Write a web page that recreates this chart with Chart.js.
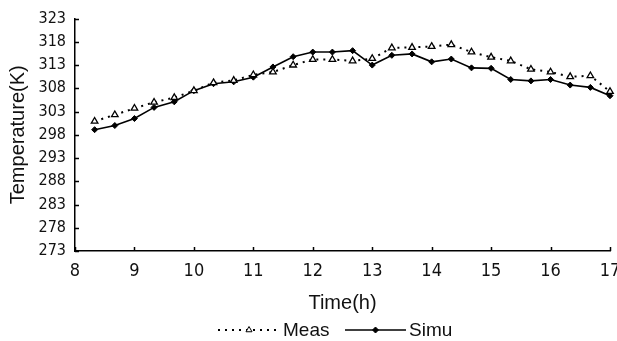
<!DOCTYPE html>
<html>
<head>
<meta charset="utf-8">
<script src="https://cdn.jsdelivr.net/npm/chart.js@4.4.0/dist/chart.umd.min.js"></script>
<style>
	html, body { margin: 0; padding: 0; background: #fff; }
	#chart { display: block; }
</style>
</head>
<body>
<canvas id="chart" width="617" height="341"></canvas>
<script>
// time of day (h)
const hours = [8.33, 8.67, 9, 9.33, 9.67, 10, 10.33, 10.67, 11, 11.33, 11.67, 12, 12.33, 12.67,
	13, 13.33, 13.67, 14, 14.33, 14.67, 15, 15.33, 15.67, 16, 16.33, 16.67, 17];

// measured temperature (K)
const meas = [300.9, 302.3, 303.7, 305.0, 306.0, 307.5, 309.2, 309.7, 310.9, 311.5, 313.0, 314.2, 314.2, 313.9,
	314.4, 316.7, 316.8, 317.0, 317.4, 315.8, 314.7, 313.9, 312.1, 311.5, 310.5, 310.7, 307.3];

// simulated temperature (K)
const simu = [299.1, 300.0, 301.5, 303.9, 305.1, 307.5, 309.0, 309.4, 310.4, 312.6, 314.8, 315.8, 315.8, 316.1,
	313.0, 315.1, 315.4, 313.7, 314.3, 312.4, 312.3, 309.9, 309.6, 309.9, 308.7, 308.2, 306.4];

const seriesNames = ['Meas', 'Simu'];
const yMin = 273, yMax = 323, yStep = 5;
const xMin = 8, xMax = 17, xStep = 1;

const narrow = "'Liberation Sans Narrow', 'Arial Narrow', 'DejaVu Sans Condensed', 'Liberation Sans', Arial, sans-serif";
const regular = "'Liberation Sans', Arial, sans-serif";
const ink = '#111';

const toPoints = (ys) => ys.map((y, i) => ({ x: hours[i], y: y }));

// ticks pointing into the plot, like the original
const innerTicks = {
	id: 'innerTicks',
	afterDatasetsDraw(chart) {
		const { ctx, scales: { x, y } } = chart;
		ctx.save();
		ctx.strokeStyle = '#000';
		ctx.lineWidth = 1.5;
		ctx.beginPath();
		y.ticks.forEach(t => {
			const py = Math.round(y.getPixelForValue(t.value)) + 0.5;
			ctx.moveTo(y.right, py);
			ctx.lineTo(y.right + 4, py);
		});
		x.ticks.forEach(t => {
			const px = Math.round(x.getPixelForValue(t.value)) + 0.5;
			ctx.moveTo(px, x.top);
			ctx.lineTo(px, x.top - 4);
		});
		ctx.stroke();
		ctx.restore();
	}
};

// legend: line sample with marker, then the name
const lineLegend = {
	id: 'lineLegend',
	afterDraw(chart) {
		const { ctx } = chart;
		const cy = 330;
		const items = [
			{ x0: 218, x1: 280, dash: [2, 5], marker: 'triangle', label: seriesNames[0] },
			{ x0: 345, x1: 406, dash: [], marker: 'rectRot', label: seriesNames[1] },
		];
		ctx.save();
		items.forEach(it => {
			ctx.strokeStyle = '#000';
			ctx.lineWidth = it.dash.length ? 2 : 1.5;
			ctx.setLineDash(it.dash);
			ctx.beginPath();
			ctx.moveTo(it.x0, cy);
			ctx.lineTo(it.x1, cy);
			ctx.stroke();
			ctx.setLineDash([]);
			const mx = (it.x0 + it.x1) / 2;
			ctx.lineWidth = 1;
			if (it.marker === 'triangle') {
				ctx.fillStyle = '#fff';
				Chart.helpers.drawPoint(ctx, { pointStyle: 'triangle', radius: 3.5, borderWidth: 1 }, mx, cy);
			} else {
				ctx.fillStyle = '#000';
				Chart.helpers.drawPoint(ctx, { pointStyle: 'rectRot', radius: 3, borderWidth: 1 }, mx, cy);
			}
			ctx.fillStyle = ink;
			ctx.font = '19px ' + regular;
			ctx.textAlign = 'left';
			ctx.textBaseline = 'middle';
			ctx.fillText(it.label, it.x1 + 3, cy + 1);
		});
		ctx.restore();
	}
};

new Chart(document.getElementById('chart'), {
	type: 'line',
	data: {
		datasets: [
			{
				label: seriesNames[0],
				data: toPoints(meas),
				borderColor: '#000',
				borderWidth: 2,
				borderDash: [2, 5],
				borderCapStyle: 'butt',
				tension: 0,
				pointStyle: 'triangle',
				pointRadius: 3.8,
				pointBackgroundColor: '#fff',
				pointBorderColor: '#000',
				pointBorderWidth: 1.3,
				clip: false,
			},
			{
				label: seriesNames[1],
				data: toPoints(simu),
				borderColor: '#000',
				borderWidth: 1.6,
				tension: 0,
				pointStyle: 'rectRot',
				pointRadius: 3,
				pointBackgroundColor: '#000',
				pointBorderColor: '#000',
				pointBorderWidth: 1,
				clip: false,
			},
		],
	},
	options: {
		responsive: false,
		animation: false,
		events: [],
		layout: { padding: { top: 17, right: 7, left: 0, bottom: 0 } },
		plugins: {
			legend: { display: false },
			tooltip: { enabled: false },
		},
		scales: {
			x: {
				type: 'linear',
				min: xMin,
				max: xMax,
				ticks: {
					stepSize: xStep,
					autoSkip: false,
					color: ink,
					padding: 10,
					maxRotation: 0,
					font: { family: narrow, size: 18 },
				},
				grid: { display: false, drawTicks: false },
				border: { display: true, color: '#000', width: 1.5 },
				title: {
					display: true,
					text: 'Time(h)',
					color: ink,
					font: { family: regular, size: 20 },
					padding: { top: 0, bottom: 26 },
				},
				afterFit(scale) {
					scale.height = 90;
					scale.paddingRight = 7;
					scale.paddingLeft = 0;
				},
			},
			y: {
				min: yMin,
				max: yMax,
				ticks: {
					stepSize: yStep,
					autoSkip: false,
					color: ink,
					padding: 9,
					font: { family: narrow, size: 16 },
				},
				grid: { display: false, drawTicks: false },
				border: { display: true, color: '#000', width: 1.5 },
				title: {
					display: true,
					text: 'Temperature(K)',
					color: ink,
					font: { family: regular, size: 20 },
					padding: { top: 6, bottom: 0 },
				},
				afterFit(scale) {
					scale.width = 75;
				},
			},
		},
	},
	plugins: [innerTicks, lineLegend],
});
</script>
</body>
</html>
